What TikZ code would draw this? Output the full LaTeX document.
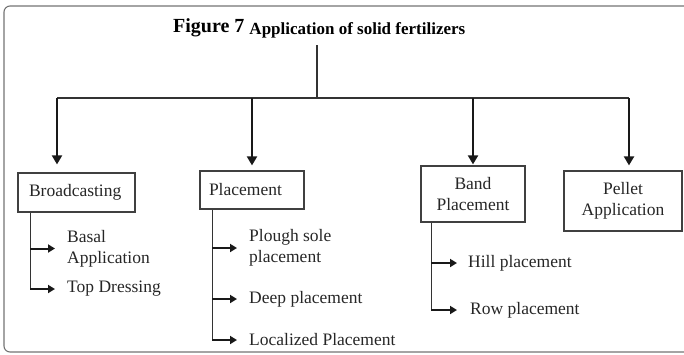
\documentclass[tikz,border=0pt]{standalone}
\usepackage{fontspec}
\setmainfont{Liberation Serif}
\usetikzlibrary{arrows.meta,calc}
\begin{document}
\begin{tikzpicture}[x=1pt,y=-1pt,
  bodyfont/.style={font=\fontsize{17.5}{21}\selectfont},
  txt/.style={bodyfont, text=black!85, inner sep=0pt, anchor=west, align=left},
  box/.style={draw=black!75, line width=1.2pt, fill=white, inner sep=0pt, bodyfont, text=black!85},
  trunk/.style={draw=black!80, line width=1.3pt},
  main/.style={draw=black!90, line width=2pt, -{Triangle[length=9pt,width=10pt]}},
  sub/.style={draw=black!90, line width=2pt, shorten >=12pt, -{Triangle[length=7pt,width=8pt]}}]
\useasboundingbox (0,0) rectangle (684,354);
% frame
\draw[black!55, line width=1.1pt, rounded corners=6pt] (690,6) -- (4,6) -- (4,352) -- (690,352);
% title
\node[anchor=base west, inner sep=0pt, font=\bfseries] (title) at (173,32)
  {\fontsize{20}{20}\selectfont Figure 7 \raisebox{-2pt}{\fontsize{17}{17}\selectfont Application of solid fertilizers}};
\coordinate (ttop) at (317,45);
\coordinate (bus) at (317,98);
\coordinate (j1) at (57,98);
\coordinate (j2) at (252,98);
\coordinate (j3) at (473,98);
\coordinate (j4) at (629,98);
% boxes
\node[box, minimum width=117pt, minimum height=39pt, text width=95pt, align=left] (bc) at (76.5,192.5) {Broadcasting};
\node[box, minimum width=104pt, minimum height=38pt, text width=86pt, align=left] (pl) at (252,190) {Placement};
\node[box, minimum width=104pt, minimum height=56pt, align=center] (bp) at (473,194) {Band\\Placement};
\node[box, minimum width=118pt, minimum height=60pt, align=center] (pa) at (623,201) {Pellet\\Application};
% connectors from title
\draw[trunk] (ttop) -- (bus);
\draw[trunk] (j1) -- (j4);
\draw[main, shorten >=8pt] (j1) -- (j1 |- bc.north);
\draw[main, shorten >=5pt] (j2) -- (j2 |- pl.north);
\draw[main, shorten >=1pt] (j3) -- (j3 |- bp.north);
\draw[main, shorten >=5pt] (j4) -- (j4 |- pa.north);
% sub items
\node[txt] (basal) at (67,248.5) {Basal\\Application};
\node[txt] (td) at (67,289) {Top Dressing};
\node[txt] (plough) at (249,248) {Plough sole\\placement};
\node[txt] (deep) at (249,299) {Deep placement};
\node[txt] (loc) at (249,340) {Localized Placement};
\node[txt] (hill) at (468,263) {Hill placement};
\node[txt] (row) at (470,310) {Row placement};
% trunks
\coordinate (v1) at ($(bc.south west)+(13,0)$);
\coordinate (v2) at ($(pl.south west)+(13,0)$);
\coordinate (v3) at ($(bp.south west)+(11,0)$);
\draw[trunk] (v1) -- (v1 |- td.west);
\draw[trunk] (v2) -- (v2 |- loc.west);
\draw[trunk] (v3) -- (v3 |- row.west);
\draw[sub] (v1 |- basal.west) -- (basal.west);
\draw[sub] (v1 |- td.west) -- (td.west);
\draw[sub] (v2 |- plough.west) -- (plough.west);
\draw[sub] (v2 |- deep.west) -- (deep.west);
\draw[sub] (v2 |- loc.west) -- (loc.west);
\draw[sub, shorten >=11pt] (v3 |- hill.west) -- (hill.west);
\draw[sub, shorten >=13pt] (v3 |- row.west) -- (row.west);
\end{tikzpicture}
\end{document}
